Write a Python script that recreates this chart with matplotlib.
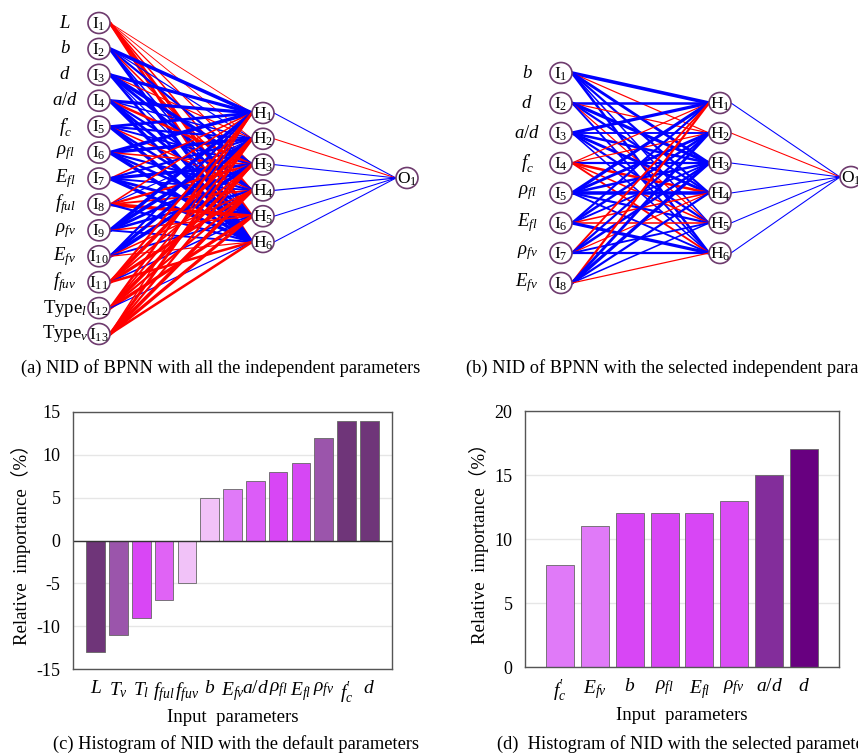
import numpy as np
import matplotlib
matplotlib.use("Agg")
import matplotlib.pyplot as plt
from matplotlib.patches import Ellipse

plt.rcParams['font.family'] = ['Liberation Serif', 'Noto Sans CJK SC']
plt.rcParams['mathtext.fontset'] = 'custom'
plt.rcParams['mathtext.rm'] = 'Liberation Serif'
plt.rcParams['mathtext.it'] = 'Liberation Serif:italic'
plt.rcParams['axes.unicode_minus'] = False

# ---- network (a): all parameters
labels_a = ['$L$', '$b$', '$d$', '$a/d$', r"$f_c^{\prime}$", r'$\rho_{fl}$', '$E_{fl}$',
            '$f_{ful}$', r'$\rho_{fv}$', '$E_{fv}$', '$f_{fuv}$', 'Type$_l$', 'Type$_v$']
w_a = np.array([
    [-0.1, -0.1, -0.2, -0.3, -0.8, -0.7],
    [0.9, 0.2, 0.5, -0.3, 0.3, 0.8],
    [0.8, -0.2, 0.9, 0.7, 0.2, 0.6],
    [0.8, 0.3, -0.6, 0.5, 0.7, 0.9],
    [0.7, 0.5, 0.4, -0.3, 0.6, 0.9],
    [0.9, 0.8, -0.3, 0.5, 0.6, 0.9],
    [-0.3, 0.5, 0.8, 0.4, 0.7, 0.9],
    [-0.3, 0.2, -0.5, -0.4, -0.9, 0.5],
    [0.9, 0.9, 0.7, 0.6, -0.3, 0.4],
    [0.5, 0.8, 0.9, -0.3, 0.4, -0.2],
    [-0.5, -0.9, -0.4, -0.8, 0.3, -0.6],
    [-0.6, -0.4, -0.9, -0.5, -0.8, 0.2],
    [-0.3, -0.7, -0.5, -0.9, -0.8, -0.6],
])
wo_a = np.array([0.15, -0.15, 0.15, 0.2, 0.15, 0.15])

# ---- network (b): selected parameters
labels_b = ['$b$', '$d$', '$a/d$', r"$f_c^{\prime}$", r'$\rho_{fl}$', '$E_{fl}$', r'$\rho_{fv}$', '$E_{fv}$']
w_b = np.array([
    [0.9, -0.2, 0.7, 0.5, 0.3, 0.6],
    [0.6, -0.2, 0.8, 0.5, -0.2, 0.4],
    [0.8, 0.4, 0.6, 0.7, 0.5, 0.3],
    [-0.2, -0.2, 0.5, -0.6, -0.3, -0.4],
    [0.8, 0.7, 0.6, 0.9, 0.5, 0.4],
    [0.5, 0.6, 0.4, -0.3, -0.3, 0.8],
    [-0.4, 0.5, 0.6, -0.2, 0.4, 0.5],
    [-0.5, 0.7, 0.8, 0.5, 0.3, -0.2],
])
wo_b = np.array([0.15, -0.15, 0.15, 0.15, 0.15, 0.15])

# ---- histogram (c)
params_c = ['$L$', '$T_v$', '$T_l$', '$f_{ful}$', '$f_{fuv}$', '$b$', '$E_{fv}$', '$a/d$',
            r'$\rho_{fl}$', '$E_{fl}$', r'$\rho_{fv}$', r"$f_c^{\prime}$", '$d$']
imp_c = [-13, -11, -9, -7, -5, 5, 6, 7, 8, 9, 12, 14, 14]
col_c = ['#6f3579', '#9b55ab', '#d946f5', '#e063f5', '#f1c2f8', '#f1c2f8', '#e07af8',
         '#dc5cf8', '#d846f5', '#d647f4', '#9b55ab', '#6f3579', '#6f3579']

# ---- histogram (d)
params_d = [r"$f_c^{\prime}$", '$E_{fv}$', '$b$', r'$\rho_{fl}$', '$E_{fl}$', r'$\rho_{fv}$', '$a/d$', '$d$']
imp_d = [8, 11, 12, 12, 12, 13, 15, 17]
col_d = ['#e07af8', '#e07af8', '#d846f5', '#d846f5', '#d846f5', '#da4cf5', '#832d9b', '#680080']

fig = plt.figure(figsize=(8.58, 7.56), dpi=100)
bg = fig.add_axes([0, 0, 1, 1])
bg.set_xlim(0, 858)
bg.set_ylim(756, 0)
bg.axis('off')

node_ec = '#6e3b6e'
r = 11


def node(x, y, txt):
    bg.add_patch(Ellipse((x, y), 2 * r, 2 * r - 1, fc='white', ec=node_ec, lw=1.2, zorder=5))
    bg.text(x, y + 1, txt, ha='center', va='center', fontsize=12.5, zorder=6)


def network(labels, w, wo, xi, yi0, yi1, xh, yh0, yh1, xo, yo, xl, out_txt):
    n_in = len(labels)
    yi = np.linspace(yi0, yi1, n_in)
    yh = np.linspace(yh0, yh1, w.shape[1])
    for i in range(n_in):
        for j in range(w.shape[1]):
            c = '#0000ff' if w[i, j] > 0 else '#ff0000'
            bg.plot([xi + r, xh - r], [yi[i], yh[j]], color=c, lw=0.4 + 2.4 * abs(w[i, j]),
                    solid_capstyle='round', zorder=2)
    for j in range(w.shape[1]):
        c = '#0000ff' if wo[j] > 0 else '#ff0000'
        bg.plot([xh + r, xo - r], [yh[j], yo], color=c, lw=0.4 + 2.4 * abs(wo[j]), zorder=2)
    for i in range(n_in):
        node(xi, yi[i], 'I$_{%d}$' % (i + 1))
        bg.text(xl, yi[i], labels[i], ha='center', va='center', fontsize=13.5)
    for j in range(w.shape[1]):
        node(xh, yh[j], 'H$_{%d}$' % (j + 1))
    node(xo, yo, out_txt)


network(labels_a, w_a, wo_a, 99, 23, 334, 263, 113, 242, 407, 178, 65, 'O$_1$')
network(labels_b, w_b, wo_b, 561, 73, 283, 720, 103, 253, 851, 177, 527, 'O$_1$')

cap = 13.2
bg.text(221, 368, '(a) NID of BPNN with all the independent parameters', ha='center', va='center', fontsize=cap)
bg.text(466, 368, '(b) NID of BPNN with the selected independent parameters', ha='left', va='center', fontsize=cap)
bg.text(236, 744, '(c) Histogram of NID with the default parameters', ha='center', va='center', fontsize=cap)
bg.text(497, 744, '(d)  Histogram of NID with the selected parameters', ha='left', va='center', fontsize=cap)


def style(ax):
    for s in ax.spines.values():
        s.set_color('#555555')
        s.set_linewidth(1.0)
    ax.tick_params(length=0, labelsize=13)
    ax.tick_params(axis='y', pad=9)
    ax.tick_params(axis='x', pad=8, labelsize=14)
    ax.grid(axis='y', color='#e6e6e6', lw=1)
    ax.set_axisbelow(True)
    ax.set_xlabel('Input  parameters', fontsize=13.5, labelpad=2)
    ax.set_ylabel('Relative  importance（%）', fontsize=13.5, labelpad=4)


axc = fig.add_axes([73 / 858, (756 - 669) / 756, 319 / 858, 257 / 756])
xc = np.arange(len(imp_c))
axc.bar(xc, imp_c, width=0.82, color=col_c, edgecolor='#666666', linewidth=0.6)
axc.axhline(0, color='#333333', lw=1)
axc.set_xlim(-1, len(imp_c))
axc.set_ylim(-15, 15)
axc.set_yticks(np.arange(-15, 16, 5))
axc.set_xticks(xc)
axc.set_xticklabels(params_c)
style(axc)

axd = fig.add_axes([525 / 858, (756 - 667) / 756, 314 / 858, 256 / 756])
xd = np.arange(len(imp_d))
axd.bar(xd, imp_d, width=0.8, color=col_d, edgecolor='#666666', linewidth=0.6)
axd.set_xlim(-1, len(imp_d))
axd.set_ylim(0, 20)
axd.set_yticks(np.arange(0, 21, 5))
axd.set_xticks(xd)
axd.set_xticklabels(params_d)
style(axd)

fig.savefig('out.png', dpi=100)
